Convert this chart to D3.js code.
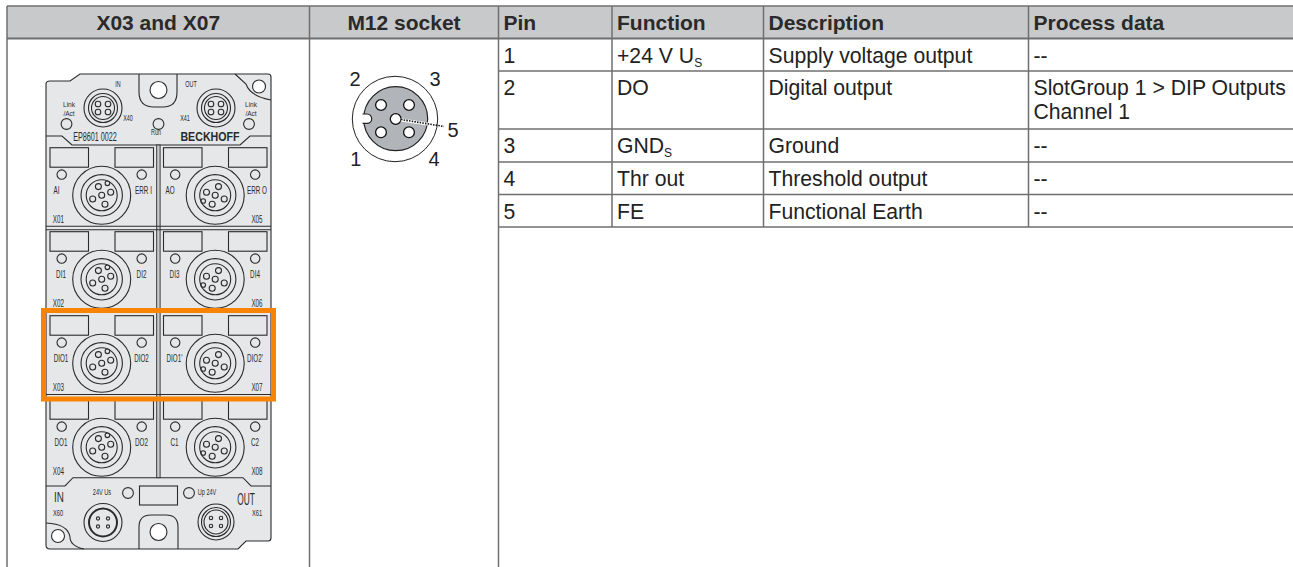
<!DOCTYPE html>
<html>
<head>
<meta charset="utf-8">
<script src="https://cdn.jsdelivr.net/npm/d3@7"></script>
<style>
  html, body { margin: 0; padding: 0; background: #fff; }
  svg { display: block; }
  text { font-family: "Liberation Sans", Arial, sans-serif; }
  .plate text { fill: #2b2b2b; }
</style>
</head>
<body>
<svg id="chart" width="1293" height="567"></svg>
<script>
// table content
const headers = ['X03 and X07', 'M12 socket', 'Pin', 'Function', 'Description', 'Process data'];
const pins = ['1', '2', '3', '4', '5'];
const functions = ['+24 V U|S', 'DO', 'GND|S', 'Thr out', 'FE'];
const descriptions = ['Supply voltage output', 'Digital output', 'Ground', 'Threshold output', 'Functional Earth'];
const processData = ['--', 'SlotGroup 1 > DIP Outputs|Channel 1', '--', '--', '--'];

// plate labels, one entry per module row
const leftLabels = [['AI', 'ERR I', 'X01'], ['DI1', 'DI2', 'X02'], ['DIO1', 'DIO2', 'X03'], ['DO1', 'DO2', 'X04']];
const rightLabels = [['AO', 'ERR O', 'X05'], ['DI3', 'DI4', 'X06'], ['DIO1\'', 'DIO2\'', 'X07'], ['C1', 'C2', 'X08']];
const socketNumbers = ['1', '2', '3', '4', '5'];

const svg = d3.select('#chart');

// column and row edges of the table
const colEdges = [7, 309.5, 498.5, 612, 763.5, 1028.5, 1293];
const rowEdges = [6, 38.5, 71, 129, 162, 194.5, 227, 567];
const lineColor = '#6f6f6f';
const bodySize = 21.2, headSize = 21;

const table = svg.append('g');

table.selectAll('rect.head')
  .data(headers)
  .join('rect')
  .attr('class', 'head')
  .attr('x', (d, i) => colEdges[i])
  .attr('y', rowEdges[0])
  .attr('width', (d, i) => colEdges[i + 1] - colEdges[i])
  .attr('height', rowEdges[1] - rowEdges[0])
  .attr('fill', '#c8c9ca');

table.selectAll('text.head')
  .data(headers)
  .join('text')
  .attr('class', 'head')
  .attr('x', (d, i) => i < 2 ? (colEdges[i] + colEdges[i + 1]) / 2 : colEdges[i] + 5)
  .attr('y', 29.5)
  .attr('text-anchor', (d, i) => i < 2 ? 'middle' : 'start')
  .attr('font-size', headSize)
  .attr('font-weight', 'bold')
  .attr('fill', '#2a2a2a')
  .text(d => d);

// horizontal rules stop at the pin column except the header ones
rowEdges.slice(0, 7).forEach((y, i) => {
  table.append('line')
    .attr('x1', i < 2 ? colEdges[0] : colEdges[2]).attr('x2', 1293)
    .attr('y1', y).attr('y2', y)
    .attr('stroke', lineColor).attr('stroke-width', i === 1 ? 2 : 1.5);
});
colEdges.slice(0, 6).forEach((x, i) => {
  table.append('line')
    .attr('x1', x).attr('x2', x)
    .attr('y1', rowEdges[0])
    .attr('y2', i < 3 ? 567 : rowEdges[6])
    .attr('stroke', lineColor).attr('stroke-width', 1.5);
});

function cell(col, row, value) {
  const [main, extra] = value.split('|');
  const y = rowEdges[row + 1] + 24;
  const t = table.append('text')
    .attr('x', colEdges[col] + 5).attr('y', y)
    .attr('font-size', bodySize).attr('fill', '#222');
  t.append('tspan').text(main);
  if (extra && col === 3) {
    t.append('tspan').attr('dy', 4).attr('font-size', 12).text(extra);
  } else if (extra) {
    table.append('text')
      .attr('x', colEdges[col] + 5).attr('y', y + 23.5)
      .attr('font-size', bodySize).attr('fill', '#222').text(extra);
  }
}
pins.forEach((d, i) => cell(2, i, d));
functions.forEach((d, i) => cell(3, i, d));
descriptions.forEach((d, i) => cell(4, i, d));
processData.forEach((d, i) => cell(5, i, d));

// M12 socket drawing
const socket = svg.append('g');
socket.append('circle').attr('cx', 395).attr('cy', 119).attr('r', 42.7)
  .attr('fill', '#fff').attr('stroke', '#222').attr('stroke-width', 1);
socket.append('circle').attr('cx', 395.7).attr('cy', 118.7).attr('r', 32)
  .attr('fill', '#b1b5b9').attr('stroke', '#222').attr('stroke-width', 1.2);
socket.append('path')
  .attr('d', 'M362.5,114 H367 A4.7,4.7 0 0 1 367,123.4 H362.5')
  .attr('fill', '#fff').attr('stroke', '#222').attr('stroke-width', 1.2);
socket.selectAll('circle.hole')
  .data([[381, 105], [409, 105], [395.7, 119], [381, 132.3], [409, 132.3]])
  .join('circle')
  .attr('class', 'hole')
  .attr('cx', d => d[0]).attr('cy', d => d[1]).attr('r', 5.4)
  .attr('fill', '#fff').attr('stroke', '#111').attr('stroke-width', 1.3);
socket.append('line').attr('x1', 401).attr('y1', 120).attr('x2', 428).attr('y2', 124)
  .attr('stroke', '#fff').attr('stroke-width', 3);
socket.append('line').attr('x1', 401).attr('y1', 119.5).attr('x2', 444).attr('y2', 126.5)
  .attr('stroke', '#111').attr('stroke-width', 1.6).attr('stroke-dasharray', '1.5 1.2');
const numberPos = [[355.7, 159], [355, 79], [435, 79], [434, 159], [453, 130]];
socket.selectAll('text')
  .data(socketNumbers)
  .join('text')
  .attr('x', (d, i) => numberPos[i][0]).attr('y', (d, i) => numberPos[i][1] + 7)
  .attr('text-anchor', 'middle')
  .attr('font-size', 20).attr('fill', '#222')
  .text(d => d);

// device plate
const plate = svg.append('g').attr('class', 'plate');
const ink = '#2b2b2b';

function outline(d, fill) {
  return plate.append('path').attr('d', d)
    .attr('fill', fill || 'none').attr('stroke', ink).attr('stroke-width', 1.1);
}
function ring(cx, cy, r, fill, sw) {
  return plate.append('circle').attr('cx', cx).attr('cy', cy).attr('r', r)
    .attr('fill', fill || 'none').attr('stroke', ink).attr('stroke-width', sw || 1.1);
}
// the plate lettering is condensed, so squeeze it horizontally
function label(x, y, s, size, sx, weight) {
  const fs = size || 10.5;
  return plate.append('text')
    .attr('transform', `translate(${x},${y + fs * 0.36}) scale(${sx || 0.6},1)`)
    .attr('text-anchor', 'middle').attr('font-size', fs)
    .attr('font-weight', weight || 'normal').text(s);
}

// outer body
outline('M46,84 Q46,81 50,81 H70 L80,74 H268 Q271,74 271,77 V538 Q271,541 268,541 H246 L238,549 H50 Q46,549 46,545 Z', '#e5e7e9');
// screw cut-outs
outline('M139,74 V92 Q139,107 154,107 H163 Q177,107 177,92 V74');
ring(158.5, 90, 8.5, '#fff');
outline('M235,74 L246,84 Q250,96 271,100');
ring(259, 86.5, 6.5, '#fff');
outline('M139,549 V527 Q139,515 151,515 H166 Q178,515 178,527 V549');
ring(158.5, 532, 8.5, '#fff');
outline('M46,523 Q68,524 70,537 Q70,546 84,549');
ring(58, 536, 6.5, '#fff');
// top and bottom band edges
outline('M46,136 H62 L72,145 H240 L250,136 H271');
outline('M46,486 H65 L73,477.7 H243 L251,486 H271');
// centre gap between the two module columns
plate.append('rect').attr('x', 156.7).attr('y', 145).attr('width', 3.4).attr('height', 332.7)
  .attr('fill', '#c8cacc').attr('stroke', ink).attr('stroke-width', 0.9);

// fieldbus connectors
function busConnector(cx, cy, r1, r2, r3, pinR, sw) {
  ring(cx, cy, r1);
  ring(cx, cy, r2, 'none', sw || 1.1);
  if (r3) ring(cx, cy, r3);
  [[-5, -4], [5, -4], [-5, 4], [5, 4]].forEach(p => ring(cx + p[0], cy + p[1], pinR));
}
busConnector(103, 108, 19, 14.5, 11.5, 2.8);
busConnector(216, 108, 19, 14.5, 11.5, 2.8);
busConnector(103, 522.5, 19, 14, 0, 1.6, 2);
busConnector(216, 522, 18, 14.5, 12, 1.7);

[[66.5, 124], [249, 124], [158.5, 124], [128, 493], [189, 493]].forEach(p => ring(p[0], p[1], 5.4));
plate.append('rect').attr('x', 139.5).attr('y', 486).attr('width', 38).attr('height', 19)
  .attr('fill', 'none').attr('stroke', ink).attr('stroke-width', 1.1);

label(118, 84, 'IN', 9);
label(191, 84, 'OUT', 9);
label(69, 104.4, 'Link', 7.4, 0.88); label(69, 113.2, '/Act', 7.4, 0.88);
label(251, 104.4, 'Link', 7.4, 0.88); label(251, 113.2, '/Act', 7.4, 0.88);
label(128, 118, 'X40', 9); label(185, 118, 'X41', 9);
label(156, 132, 'Run', 9);
label(95, 137, 'EP8601  0022', 12);
label(210, 136, 'BECKHOFF', 13, 0.82, 'bold');
label(102, 491.5, '24V Us', 9, 0.62); label(207, 492, 'Up 24V', 9, 0.62);
label(59, 497, 'IN', 15, 0.66); label(246, 499, 'OUT', 16, 0.52);
label(58, 513, 'X60', 9.5); label(257, 513, 'X61', 9.5);

// one module: two label fields, two LEDs, an M12 connector and its captions
const rowTop = [147.7, 231.7, 315.7, 399.7];
function moduleCell(x0, y0, pinSet, labels, side, row) {
  const cx = x0 + 51.7, cy = y0 + 47.6;
  plate.append('g').selectAll('rect')
    .data([x0, x0 + 65])
    .join('rect')
    .attr('x', d => d).attr('y', y0).attr('width', 38.5).attr('height', 19.5)
    .attr('fill', 'none').attr('stroke', ink).attr('stroke-width', 1.1);
  ring(x0 + 11.7, y0 + 26.9, 4.7);
  ring(x0 + 91.7, y0 + 26.9, 4.7);
  ring(cx, cy, 29); ring(cx, cy, 20.7); ring(cx, cy, 15.5);
  pinSet.forEach(p => ring(cx + p[0], cy + p[1], p[2]));
  // first row captions sit further out than the others
  label(x0 + (row === 0 ? 6.5 : 11), y0 + 43, labels[0]);
  label(x0 + (row === 0 ? 93.5 : 91.5), y0 + 43, labels[1]);
  label(side === 'l' ? x0 + 8.3 : x0 + 93.5, y0 + 72, labels[2]);
}
const pinsLeft = [[-3.3, -8.7, 3], [5.7, -12, 2.3], [9, -3, 3], [-9, 3.7, 3], [3.3, 9, 3], [0, 0, 3]];
const pinsRight = [[3.3, -8.7, 3], [-8.7, -3, 3], [9, 3.7, 3], [-3, 9, 3], [-12, 5.7, 2.3], [0, 0, 3]];
rowTop.forEach((y, i) => {
  moduleCell(50, y, pinsLeft, leftLabels[i], 'l', i);
  moduleCell(163.5, y, pinsRight, rightLabels[i], 'r', i);
});

// horizontal seams between module rows
[226.3, 229.7, 310.5, 394.5].forEach(y => {
  plate.append('line').attr('x1', 46).attr('x2', 271).attr('y1', y).attr('y2', y)
    .attr('stroke', ink).attr('stroke-width', 1.1);
});

// highlight around X03 and X07
svg.append('rect').attr('x', 43.5).attr('y', 310.5).attr('width', 230).attr('height', 88.5)
  .attr('fill', 'none').attr('stroke', '#f98305').attr('stroke-width', 5);
</script>
</body>
</html>
